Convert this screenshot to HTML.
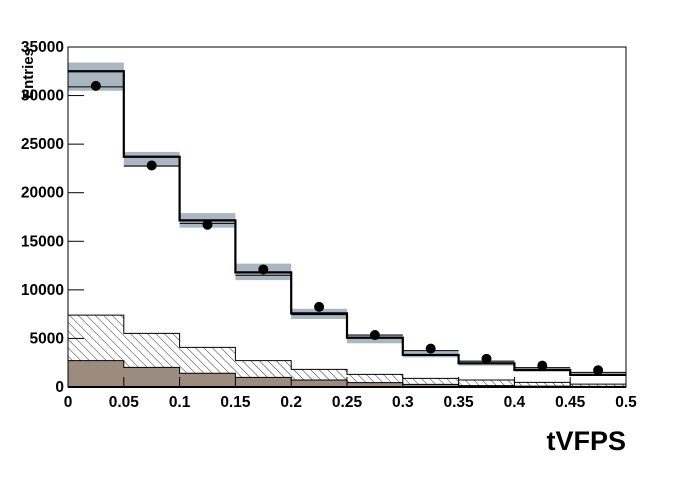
<!DOCTYPE html>
<html><head><meta charset="utf-8"><style>
body{margin:0;background:#fff}
text{font-family:"Liberation Sans",Arial,sans-serif;font-weight:bold}
</style></head><body>
<svg id="c" width="696" height="472" xmlns="http://www.w3.org/2000/svg">
<defs><pattern id="hatch" patternUnits="userSpaceOnUse" width="6" height="6" patternTransform="rotate(-45)"><line x1="0" y1="0" x2="0" y2="6" stroke="#000" stroke-width="0.8"/></pattern></defs>
<g id="plot"></g>
</svg>
<script>
const binEdges=[0,0.05,0.1,0.15,0.2,0.25,0.3,0.35,0.4,0.45,0.5];
const totalMC=[32500,23700,17150,11800,7580,5070,3300,2440,1750,1240];
const altMC=[30900,22750,16850,11500,7450,5350,3740,2660,1990,1510];
const bandLo=[30500,22650,16400,11000,7000,4500,3050,2200,1600,1150];
const bandHi=[33400,24200,17900,12700,8050,5400,3750,2700,2000,1500];
const dataPts=[31000,22800,16700,12100,8250,5350,3950,2900,2200,1720];
const hatched=[7400,5520,4080,2710,1820,1300,890,720,480,300];
const brown=[2710,2020,1410,995,720,446,275,140,90,60];
const yTicks=[0,5000,10000,15000,20000,25000,30000,35000];
const xTicks=[0,0.05,0.1,0.15,0.2,0.25,0.3,0.35,0.4,0.45,0.5];
const xTickLabels=["0","0.05","0.1","0.15","0.2","0.25","0.3","0.35","0.4","0.45","0.5"];

const L=68,R=626,T=47,B=387;
const X=v=>L+(v-0)/(0.5)*(R-L);
const Y=v=>B-v/35000*(B-T);
const g=document.getElementById('plot');
const NS="http://www.w3.org/2000/svg";
function mk(tag,attrs,name){const e=document.createElementNS(NS,tag);for(const k in attrs)e.setAttribute(k,attrs[k]);


g.appendChild(e);return e;}
function stepPath(vals,closed){let d=`M${X(binEdges[0])},${Y(closed?0:vals[0])}`;
for(let i=0;i<vals.length;i++){d+=` L${X(binEdges[i])},${Y(vals[i])} L${X(binEdges[i+1])},${Y(vals[i])}`;}
if(closed)d+=` L${X(binEdges[vals.length])},${Y(0)} Z`;return d;}
mk('path',{d:stepPath(hatched,true),fill:'url(#hatch)',stroke:'#000','stroke-width':1},'hatched-background');
mk('path',{d:stepPath(brown,true),fill:'#9c8c80',stroke:'#000','stroke-width':1},'brown-background');
for(let i=0;i<bandLo.length;i++){
mk('rect',{x:X(binEdges[i]),y:Y(bandHi[i]),width:X(binEdges[i+1])-X(binEdges[i]),height:Y(bandLo[i])-Y(bandHi[i]),fill:'#aab7c2'},'error-band');
mk('line',{x1:X(binEdges[i]),x2:X(binEdges[i+1]),y1:Y(altMC[i]),y2:Y(altMC[i]),stroke:'#000','stroke-width':1},'alt-mc-line');
}
mk('path',{d:stepPath(totalMC,false),fill:'none',stroke:'#000','stroke-width':2.2},'total-mc-line');
for(let i=0;i<dataPts.length;i++){
const cx=(X(binEdges[i])+X(binEdges[i+1]))/2;
mk('circle',{cx:cx,cy:Y(dataPts[i]),r:5,fill:'#000'},'data-point');
}
mk('rect',{x:L,y:T,width:R-L,height:B-T,fill:'none',stroke:'#000','stroke-width':1},'plot-frame');
mk('line',{x1:L,x2:R,y1:B,y2:B,stroke:'#000','stroke-width':2},'x-axis');
mk('line',{x1:L,x2:L,y1:T,y2:B,stroke:'#000','stroke-width':1},'y-axis');
yTicks.forEach(v=>{mk('line',{x1:L,x2:L+16,y1:Y(v),y2:Y(v),stroke:'#000'},'y-tick');
const t=mk('text',{x:L-4,y:Y(v)+5,'text-anchor':'end','font-size':15.5},'y-tick-label');t.textContent=v;});
xTicks.forEach((v,i)=>{mk('line',{x1:X(v),x2:X(v),y1:B,y2:B-10,stroke:'#000'},'x-tick');
const t=mk('text',{x:X(v),y:B+20,'text-anchor':'middle','font-size':15.5},'x-tick-label');t.textContent=xTickLabels[i];});
const xt=mk('text',{x:626,y:450,'text-anchor':'end','font-size':27},'x-axis-title');xt.textContent='tVFPS';
const yt=mk('text',{x:0,y:0,'text-anchor':'end','font-size':15,transform:'translate(33,48) rotate(-90)'},'y-axis-title');yt.textContent='Entries';
</script>
</body></html>
